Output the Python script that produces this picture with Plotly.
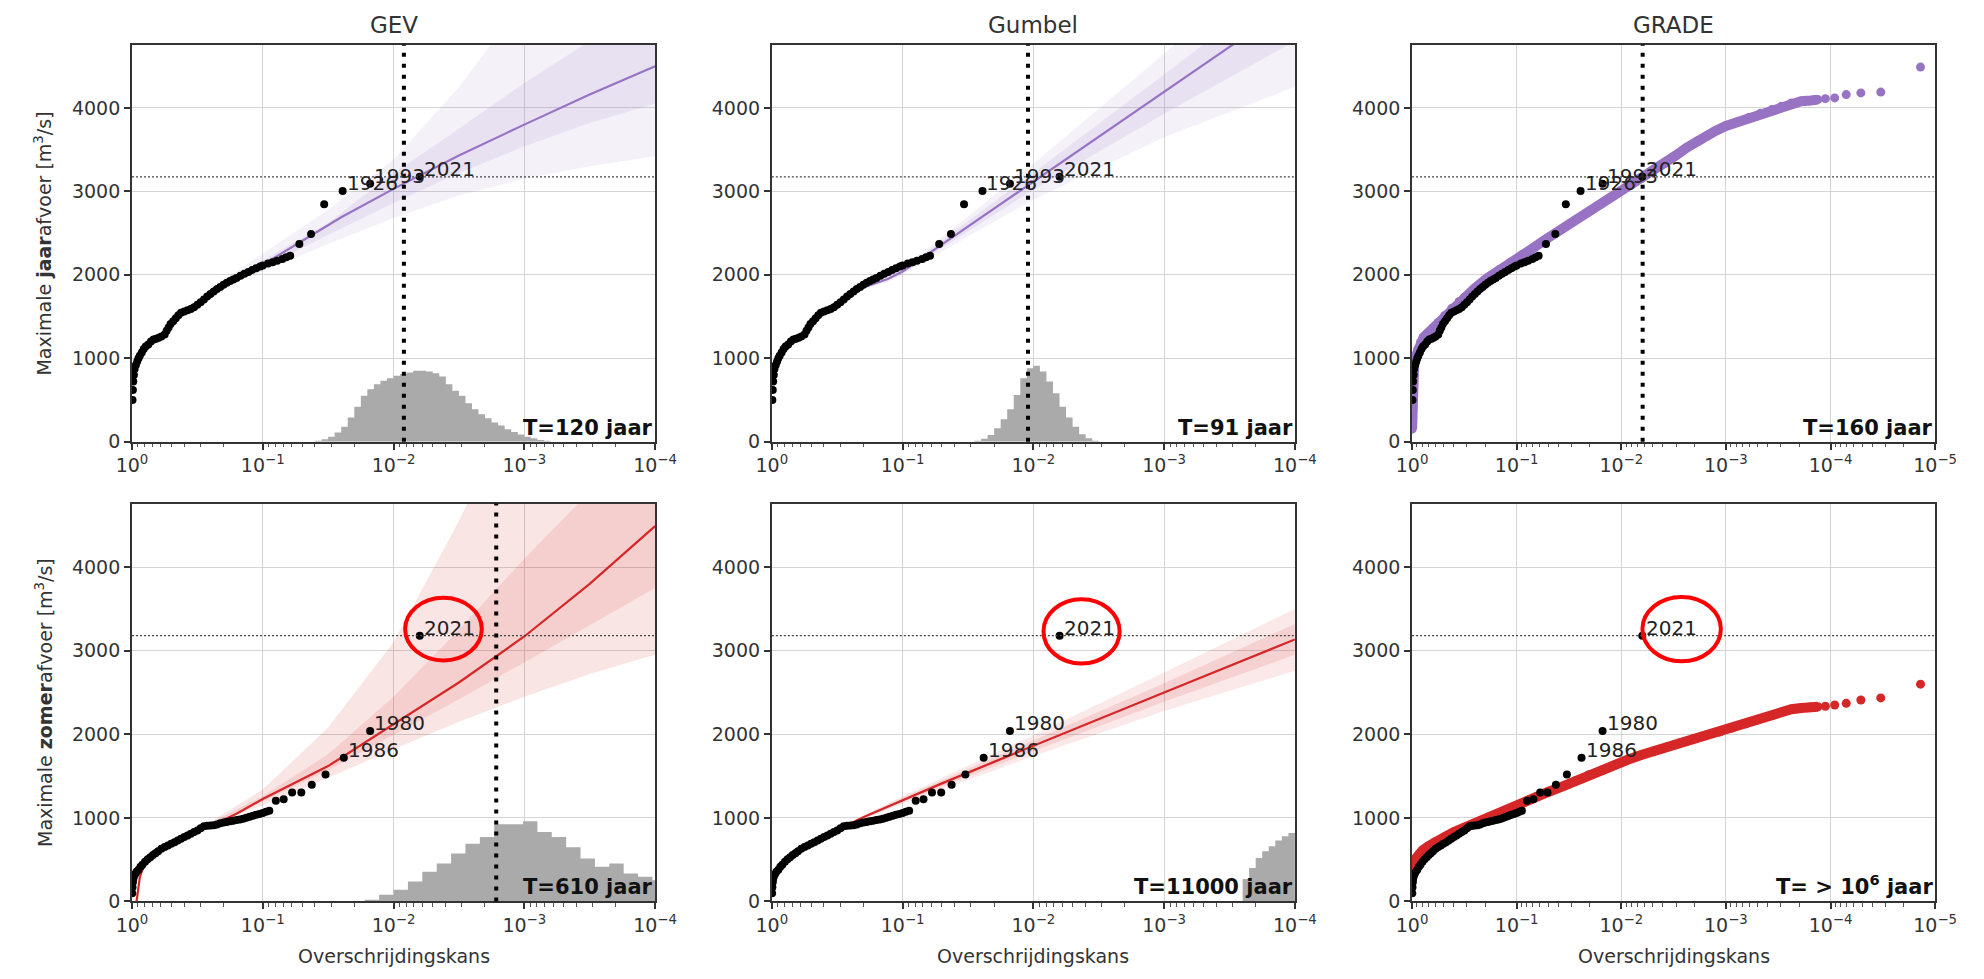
import math
import plotly.graph_objects as go

# ------------------------------------------------------------------ data
# exceedance probabilities (p) and discharges (Q, m3/s)

# observed annual maxima (sorted high -> low)
obs_annual_p = [0.0063, 0.0151, 0.0245, 0.0339, 0.0427, 0.0525, 0.0617, 0.0661, 0.0708, 0.0776,
                0.0841, 0.0912, 0.100, 0.1047, 0.1122, 0.1202, 0.1288, 0.138, 0.1479, 0.1585,
                0.1679, 0.1778, 0.1884, 0.1995, 0.2113, 0.2239, 0.2371, 0.2512, 0.2661, 0.2818,
                0.2985, 0.3162, 0.335, 0.3548, 0.3758, 0.3981, 0.4217, 0.4416, 0.4624, 0.4842,
                0.507, 0.5248, 0.5433, 0.5623, 0.5957, 0.6237, 0.6531, 0.6839, 0.7161, 0.7499,
                0.7852, 0.8128, 0.8414, 0.871, 0.8913, 0.912, 0.9333, 0.955, 0.9661, 0.9772,
                0.984, 0.9908]
obs_annual_q = [3175, 3090, 3005, 2845, 2490, 2370, 2230, 2210, 2190, 2170,
                2150, 2135, 2112, 2100, 2080, 2058, 2035, 2013, 1990, 1962,
                1945, 1925, 1905, 1880, 1855, 1830, 1800, 1770, 1740, 1705,
                1670, 1640, 1610, 1590, 1575, 1560, 1545, 1515, 1480, 1445,
                1410, 1370, 1330, 1285, 1260, 1245, 1235, 1225, 1200, 1165,
                1140, 1110, 1070, 1030, 1000, 960, 920, 870, 800, 720,
                620, 500]
obs_annual_labels = ["2021", "1993", "1926"]

# observed summer maxima (sorted high -> low)
obs_summer_p = [0.0063, 0.0151, 0.024, 0.0331, 0.0422, 0.0507, 0.0596, 0.0692, 0.0794, 0.0891,
                0.0944, 0.1, 0.1059, 0.1122, 0.1189, 0.1259, 0.1334, 0.1413, 0.1496, 0.1585,
                0.1679, 0.1778, 0.1884, 0.1995, 0.2113, 0.2239, 0.2371, 0.2512, 0.2661, 0.2818,
                0.2985, 0.3162, 0.335, 0.3548, 0.3758, 0.3981, 0.4217, 0.4467, 0.4732, 0.5012,
                0.5309, 0.5623, 0.5957, 0.631, 0.6607, 0.6918, 0.7244, 0.7586, 0.7943, 0.8318,
                0.861, 0.8913, 0.9226, 0.9441, 0.9661, 0.9772, 0.984, 0.9908, 0.9954]
obs_summer_q = [3180, 2040, 1720, 1520, 1395, 1303, 1303, 1224, 1204, 1086,
                1072, 1058, 1048, 1037, 1026, 1015, 1002, 990, 982, 975,
                967, 960, 952, 945, 935, 920, 912, 908, 905, 900,
                875, 849, 830, 810, 790, 770, 750, 730, 710, 690,
                671, 652, 630, 600, 578, 555, 530, 505, 475, 440,
                415, 380, 355, 330, 300, 270, 230, 170, 100]
obs_summer_labels = ["2021", "1980", "1986"]

# GEV fit, annual
gev_a_line_p = [0.3162, 0.1778, 0.1, 0.0501, 0.02512, 0.01, 0.003162, 0.001, 0.0003162, 0.0001]
gev_a_line_q = [1660, 1930, 2120, 2400, 2690, 3030, 3430, 3800, 4160, 4500]
gev_a_band_p = [0.3162, 0.1778, 0.1, 0.03162, 0.01, 0.003162, 0.001, 0.0003162, 0.0001]
gev_a_outer_lo = [1640, 1900, 2040, 2370, 2680, 2950, 3150, 3300, 3420]
gev_a_outer_hi = [1690, 1990, 2250, 2780, 3380, 4250, 5300, 6400, 7500]
gev_a_inner_lo = [1650, 1915, 2085, 2480, 2860, 3220, 3540, 3820, 4050]
gev_a_inner_hi = [1670, 1950, 2170, 2620, 3220, 3750, 4300, 4800, 5300]

# Gumbel fit, annual
gum_a_line_p = [0.19, 0.13, 0.1, 0.03162, 0.01, 0.001, 0.0001]
gum_a_line_q = [1860, 1950, 2040, 2580, 3120, 4195, 5270]
gum_a_band_p = [0.25, 0.19, 0.13, 0.1, 0.03162, 0.01, 0.001, 0.0001]
gum_a_outer_lo = [1760, 1835, 1915, 2000, 2460, 2900, 3650, 4250]
gum_a_outer_hi = [1790, 1890, 1990, 2090, 2700, 3330, 4650, 6000]
gum_a_inner_lo = [1770, 1848, 1930, 2020, 2520, 3020, 3930, 4800]
gum_a_inner_hi = [1780, 1872, 1970, 2065, 2640, 3220, 4400, 5600]

# GEV fit, summer
gev_s_line_p = [0.9226, 0.9016, 0.871, 0.8318, 0.7586, 0.631, 0.5012, 0.3548, 0.2239, 0.1585,
                0.1, 0.03162, 0.01, 0.003162, 0.001, 0.0003162, 0.0001]
gev_s_line_q = [0, 150, 290, 380, 490, 600, 700, 820, 940, 1050,
                1225, 1620, 2120, 2620, 3170, 3800, 4490]
gev_s_band_p = [0.2512, 0.1, 0.03162, 0.01, 0.003162, 0.001, 0.0003162, 0.0001]
gev_s_outer_lo = [920, 1150, 1480, 1820, 2150, 2450, 2720, 2950]
gev_s_outer_hi = [950, 1340, 2080, 3100, 4550, 6200, 8000, 10000]
gev_s_inner_lo = [925, 1200, 1570, 1990, 2420, 2860, 3300, 3750]
gev_s_inner_hi = [940, 1260, 1760, 2450, 3250, 4100, 4900, 5800]

# Gumbel fit, summer
gum_s_line_p = [0.99, 0.95, 0.9, 0.8, 0.6, 0.4, 0.2, 0.1, 0.05, 0.02, 0.01, 0.001, 0.0001]
gum_s_line_q = [172, 290, 363, 462, 617, 779, 1007, 1214, 1413, 1670, 1863, 2499, 3135]
gum_s_band_p = [0.2, 0.1, 0.01, 0.001, 0.0001]
gum_s_outer_lo = [985, 1170, 1740, 2280, 2760]
gum_s_outer_hi = [1030, 1260, 1990, 2740, 3500]
gum_s_inner_lo = [995, 1190, 1800, 2390, 2950]
gum_s_inner_hi = [1020, 1240, 1930, 2610, 3320]

# GRADE simulations, annual
grade_a_p = [0.99885, 0.9977, 0.9954, 0.9908, 0.984, 0.9727, 0.955, 0.9226, 0.881, 0.8318,
             0.7762, 0.7079, 0.631, 0.5623, 0.4898, 0.4169, 0.3548, 0.3162, 0.2512, 0.1905,
             0.1479, 0.1148, 0.0891, 0.0698, 0.055, 0.0422, 0.0339, 0.0275, 0.0209, 0.0155,
             0.0126, 0.01, 0.00794, 0.00646, 0.00501, 0.00389, 0.00302, 0.00237, 0.00191, 0.00155,
             0.00126, 0.001, 0.000776, 0.000603, 0.000468, 0.000363, 0.000295, 0.000237, 0.000191,
             0.000155, 0.000132]
grade_a_q = [150, 300, 450, 600, 720, 830, 920, 1020, 1110, 1190,
             1250, 1300, 1360, 1430, 1510, 1600, 1680, 1730, 1840, 1960,
             2060, 2150, 2240, 2320, 2410, 2500, 2580, 2655, 2750, 2850,
             2930, 3010, 3085, 3150, 3240, 3330, 3430, 3525, 3600, 3665,
             3725, 3785, 3835, 3885, 3935, 3980, 4020, 4060, 4080,
             4090, 4100]
grade_a_tail_p = [0.000112, 0.0000912, 0.0000708, 0.0000513, 0.0000331, 0.0000138]
grade_a_tail_q = [4111, 4120, 4160, 4180, 4190, 4490]

# GRADE simulations, summer
grade_s_p = [0.99885, 0.9954, 0.9886, 0.9772, 0.955, 0.912, 0.866, 0.7943, 0.6982, 0.6026,
             0.4898, 0.3981, 0.3162, 0.263, 0.2208, 0.1862, 0.154, 0.1259, 0.1, 0.0794,
             0.0646, 0.0501, 0.0363, 0.0275, 0.0204, 0.0151, 0.0115, 0.00871, 0.00646, 0.0049,
             0.00363, 0.00275, 0.00204, 0.00155, 0.00115, 0.000871, 0.000646, 0.00049, 0.000363,
             0.000295, 0.000237, 0.000191, 0.000155, 0.000132]
grade_s_q = [300, 350, 400, 430, 470, 520, 560, 610, 660, 715,
             770, 830, 886, 925, 965, 1000, 1043, 1090, 1142, 1200,
             1255, 1310, 1378, 1445, 1516, 1575, 1634, 1695, 1752, 1800,
             1850, 1900, 1949, 1990, 2028, 2075, 2126, 2175, 2224,
             2265, 2300, 2315, 2325, 2330]
grade_s_tail_p = [0.000112, 0.0000912, 0.0000708, 0.0000513, 0.0000331, 0.0000138]
grade_s_tail_q = [2335, 2350, 2370, 2410, 2435, 2600]

# histograms of estimated return periods (bin edges in p, heights in m3/s units)
hist_gev_a_edges = [0.03981, 0.03548, 0.03162, 0.02818, 0.02512, 0.02239, 0.01995, 0.01778, 0.01585,
                    0.01413, 0.01259, 0.01122, 0.01, 0.008913, 0.007943, 0.007079, 0.00631, 0.005623,
                    0.005012, 0.004467, 0.003981, 0.003548, 0.003162, 0.002818, 0.002512, 0.002239,
                    0.001995, 0.001778, 0.001585, 0.001413, 0.001259, 0.001122, 0.001, 0.0008913,
                    0.0007943, 0.0007079, 0.000631]
hist_gev_a_h = [10, 30, 60, 110, 180, 290, 420, 550, 630, 690, 730, 760, 790, 810, 830, 850, 850, 840,
                820, 780, 690, 610, 550, 460, 390, 330, 280, 230, 195, 150, 115, 85, 60, 40, 20, 10]
hist_gum_a_edges = [0.02818, 0.02512, 0.02239, 0.01995, 0.01778, 0.01585, 0.01413, 0.01259, 0.01122,
                    0.01, 0.008913, 0.007943, 0.007079, 0.00631, 0.005623, 0.005012, 0.004467,
                    0.003981, 0.003548, 0.003162]
hist_gum_a_h = [10, 35, 80, 160, 270, 390, 560, 760, 880, 910, 840, 720, 580, 420, 290, 180, 90, 40, 12]
hist_gev_s_edges = [0.0166, 0.01288, 0.01, 0.007762, 0.006026, 0.004677, 0.003631, 0.002818, 0.002188,
                    0.001698, 0.001318, 0.001023, 0.0007943, 0.0006166, 0.0004786, 0.0003715,
                    0.0002884, 0.0002239, 0.0001738, 0.0001349, 0.0001047, 0.0000813]
hist_gev_s_h = [20, 80, 140, 240, 355, 455, 575, 690, 770, 925, 925, 960, 830, 770, 650, 515, 415,
                455, 335, 295, 255]
hist_gum_s_edges = [0.0002512, 0.0002239, 0.0001995, 0.0001778, 0.0001585, 0.0001413, 0.0001259,
                    0.0001122, 0.0001, 0.0000891]
hist_gum_s_h = [270, 400, 520, 600, 660, 730, 780, 820, 840]

# return periods (years) shown as vertical dotted lines / texts
T_years = [120, 91, 160, 610, 11000, None]
T_texts = ["T=120 jaar", "T=91 jaar", "T=160 jaar", "T=610 jaar", "T=11000 jaar",
           "T= &gt; 10<sup>6</sup> jaar"]
col_titles = ["GEV", "Gumbel", "GRADE"]
row_ylabels = ["Maximale <b>jaar</b>afvoer [m<sup>3</sup>/s]",
               "Maximale <b>zomer</b>afvoer [m<sup>3</sup>/s]"]
x_title = "Overschrijdingskans"
y_ticks = [0, 1000, 2000, 3000, 4000]
x_tickvals_4 = [1, 0.1, 0.01, 0.001, 0.0001]
x_ticktext_4 = ["10<sup>0</sup>", "10<sup>\u22121</sup>", "10<sup>\u22122</sup>",
                "10<sup>\u22123</sup>", "10<sup>\u22124</sup>"]
x_tickvals_5 = x_tickvals_4 + [0.00001]
x_ticktext_5 = x_ticktext_4 + ["10<sup>\u22125</sup>"]

# red ellipses around the 2021 label in the summer panels:
# (panel, centre p, centre Q, half-width in decades, half-height in Q)
highlight = [(4, 0.00415, 3258, 0.293, 375), (5, 0.00428, 3231, 0.291, 385),
             (6, 0.00265, 3258, 0.375, 385)]

# ------------------------------------------------------------------ style
PURPLE = "#9873c4"
RED = "#d62728"
FONT = "DejaVu Sans"
Y_MAX = 4760
col_domains = [[0.0596, 0.3284], [0.3884, 0.6572], [0.7174, 0.9862]]
row_domains = [[0.5437, 0.9540], [0.0687, 0.4798]]

fig = go.Figure()


def ax(i):
    return ("x" if i == 1 else f"x{i}"), ("y" if i == 1 else f"y{i}")


def add_hist(i, edges, h):
    xa, ya = ax(i)
    fig.add_trace(go.Scatter(x=edges, y=list(h) + [0], mode="lines", line=dict(width=0, shape="hv"),
                             fill="tozeroy", fillcolor="#aaaaaa", xaxis=xa, yaxis=ya,
                             hoverinfo="skip", showlegend=False))


def add_band(i, p, lo, hi, color):
    xa, ya = ax(i)
    fig.add_trace(go.Scatter(x=list(p) + list(p)[::-1], y=list(lo) + list(hi)[::-1], mode="lines",
                             fill="toself", fillcolor=color, line=dict(width=0),
                             xaxis=xa, yaxis=ya, hoverinfo="skip", showlegend=False))


def add_line(i, p, q, color):
    xa, ya = ax(i)
    fig.add_trace(go.Scatter(x=p, y=q, mode="lines", line=dict(color=color, width=2.2),
                             xaxis=xa, yaxis=ya, hoverinfo="skip", showlegend=False))


def add_grade(i, p, q, tp, tq, color):
    xa, ya = ax(i)
    fig.add_trace(go.Scatter(x=p, y=q, mode="lines+markers", line=dict(color=color, width=10),
                             marker=dict(color=color, size=9), xaxis=xa, yaxis=ya,
                             hoverinfo="skip", showlegend=False))
    fig.add_trace(go.Scatter(x=tp, y=tq, mode="markers", marker=dict(color=color, size=9),
                             xaxis=xa, yaxis=ya, hoverinfo="skip", showlegend=False))


def add_obs(i, p, q, labels):
    xa, ya = ax(i)
    fig.add_trace(go.Scatter(x=p, y=q, mode="markers", marker=dict(color="black", size=8),
                             xaxis=xa, yaxis=ya, hoverinfo="skip", showlegend=False))
    for k, lab in enumerate(labels):
        fig.add_annotation(x=math.log10(p[k]), y=q[k], xref=xa, yref=ya, text=lab, showarrow=False,
                           xanchor="left", yanchor="bottom", xshift=2, yshift=-6,
                           font=dict(family=FONT, size=20, color="#222"))
    # horizontal dotted line at the 2021 peak
    fig.add_shape(type="line", xref=f"{xa} domain", yref=ya, x0=0, x1=1, y0=q[0], y1=q[0],
                  line=dict(color="#444", width=1.3, dash="2px,2px"), layer="above")


def add_T(i, T, text):
    xa, ya = ax(i)
    if T is not None:
        # shapes on log axes take data values
        fig.add_shape(type="line", xref=xa, yref=f"{ya} domain", x0=1.0 / T, x1=1.0 / T, y0=0, y1=1,
                      line=dict(color="black", width=4, dash="4px,7px"), layer="above")
    fig.add_annotation(xref=f"{xa} domain", yref=f"{ya} domain", x=1, y=0, xanchor="right",
                       yanchor="bottom", text=f"<b>{text}</b>", showarrow=False, yshift=0,
                       font=dict(family=FONT, size=21, color="#111"))


# panel 1: GEV annual
add_hist(1, hist_gev_a_edges, hist_gev_a_h)
add_band(1, gev_a_band_p, gev_a_outer_lo, gev_a_outer_hi, "rgba(152,115,196,0.10)")
add_band(1, gev_a_band_p, gev_a_inner_lo, gev_a_inner_hi, "rgba(152,115,196,0.12)")
add_line(1, gev_a_line_p, gev_a_line_q, PURPLE)
add_obs(1, obs_annual_p, obs_annual_q, obs_annual_labels)

# panel 2: Gumbel annual
add_hist(2, hist_gum_a_edges, hist_gum_a_h)
add_band(2, gum_a_band_p, gum_a_outer_lo, gum_a_outer_hi, "rgba(152,115,196,0.10)")
add_band(2, gum_a_band_p, gum_a_inner_lo, gum_a_inner_hi, "rgba(152,115,196,0.12)")
add_line(2, gum_a_line_p, gum_a_line_q, PURPLE)
add_obs(2, obs_annual_p, obs_annual_q, obs_annual_labels)

# panel 3: GRADE annual
add_grade(3, grade_a_p, grade_a_q, grade_a_tail_p, grade_a_tail_q, PURPLE)
add_obs(3, obs_annual_p, obs_annual_q, obs_annual_labels)

# panel 4: GEV summer
add_hist(4, hist_gev_s_edges, hist_gev_s_h)
add_band(4, gev_s_band_p, gev_s_outer_lo, gev_s_outer_hi, "rgba(214,39,40,0.12)")
add_band(4, gev_s_band_p, gev_s_inner_lo, gev_s_inner_hi, "rgba(214,39,40,0.12)")
add_line(4, gev_s_line_p, gev_s_line_q, RED)
add_obs(4, obs_summer_p, obs_summer_q, obs_summer_labels)

# panel 5: Gumbel summer
add_hist(5, hist_gum_s_edges, hist_gum_s_h)
add_band(5, gum_s_band_p, gum_s_outer_lo, gum_s_outer_hi, "rgba(214,39,40,0.10)")
add_band(5, gum_s_band_p, gum_s_inner_lo, gum_s_inner_hi, "rgba(214,39,40,0.12)")
add_line(5, gum_s_line_p, gum_s_line_q, RED)
add_obs(5, obs_summer_p, obs_summer_q, obs_summer_labels)

# panel 6: GRADE summer
add_grade(6, grade_s_p, grade_s_q, grade_s_tail_p, grade_s_tail_q, RED)
add_obs(6, obs_summer_p, obs_summer_q, obs_summer_labels)

for i in range(1, 7):
    add_T(i, T_years[i - 1], T_texts[i - 1])

for i, cp, cy, rx, ry in highlight:
    xa, ya = ax(i)
    fig.add_shape(type="circle", xref=xa, yref=ya, x0=cp * 10 ** rx, x1=cp / 10 ** rx,
                  y0=cy - ry, y1=cy + ry, line=dict(color="#ff0000", width=4), layer="above")

# ------------------------------------------------------------------ axes
layout = {}
for i in range(1, 7):
    r = 0 if i <= 3 else 1
    c = (i - 1) % 3
    xa, ya = ax(i)
    xkey = "xaxis" if i == 1 else f"xaxis{i}"
    ykey = "yaxis" if i == 1 else f"yaxis{i}"
    five = (c == 2)
    ndec = 5 if five else 4
    minor_vals = [m * 10.0 ** (-k) for k in range(1, ndec + 1) for m in range(2, 10)]
    layout[xkey] = dict(
        type="log", range=[0, -ndec], domain=col_domains[c], anchor=ya,
        tickvals=x_tickvals_5 if five else x_tickvals_4,
        ticktext=x_ticktext_5 if five else x_ticktext_4,
        ticks="outside", ticklen=6, tickwidth=1.5, tickcolor="#333",
        showgrid=True, gridcolor="#d4d4d4", gridwidth=1.3,
        showline=True, linecolor="#333", linewidth=1.8, mirror=True,
        tickfont=dict(family=FONT, size=19, color="#333"),
        minor=dict(tickvals=minor_vals, ticks="outside", ticklen=3.5, tickwidth=1, tickcolor="#555",
                   showgrid=False),
        zeroline=False,
    )
    layout[ykey] = dict(
        range=[0, Y_MAX], domain=row_domains[r], anchor=xa, tickvals=y_ticks,
        ticks="outside", ticklen=6, tickwidth=1.5, tickcolor="#333",
        showgrid=True, gridcolor="#d4d4d4", gridwidth=1.3,
        showline=True, linecolor="#333", linewidth=1.8, mirror=True,
        tickfont=dict(family=FONT, size=19, color="#333"), zeroline=False,
    )

fig.update_layout(**layout)

# titles and axis labels
col_centers = [(d[0] + d[1]) / 2 for d in col_domains]
for c, t in enumerate(col_titles):
    fig.add_annotation(xref="paper", yref="paper", x=col_centers[c], y=0.9745, text=t, showarrow=False,
                       xanchor="center", yanchor="middle", font=dict(family=FONT, size=23, color="#333"))
    fig.add_annotation(xref="paper", yref="paper", x=col_centers[c], y=0.0126, text=x_title,
                       showarrow=False, xanchor="center", yanchor="middle",
                       font=dict(family=FONT, size=19, color="#333"))
for r, t in enumerate(row_ylabels):
    yc = (row_domains[r][0] + row_domains[r][1]) / 2
    fig.add_annotation(xref="paper", yref="paper", x=0.0141, y=yc, text=t, showarrow=False,
                       textangle=-90, xanchor="center", yanchor="middle",
                       font=dict(family=FONT, size=19, color="#333"))

fig.update_layout(width=1984, height=979, margin=dict(l=0, r=0, t=0, b=0),
                  paper_bgcolor="white", plot_bgcolor="white", showlegend=False,
                  font=dict(family=FONT, color="#333"))

fig.write_html("out.html")
